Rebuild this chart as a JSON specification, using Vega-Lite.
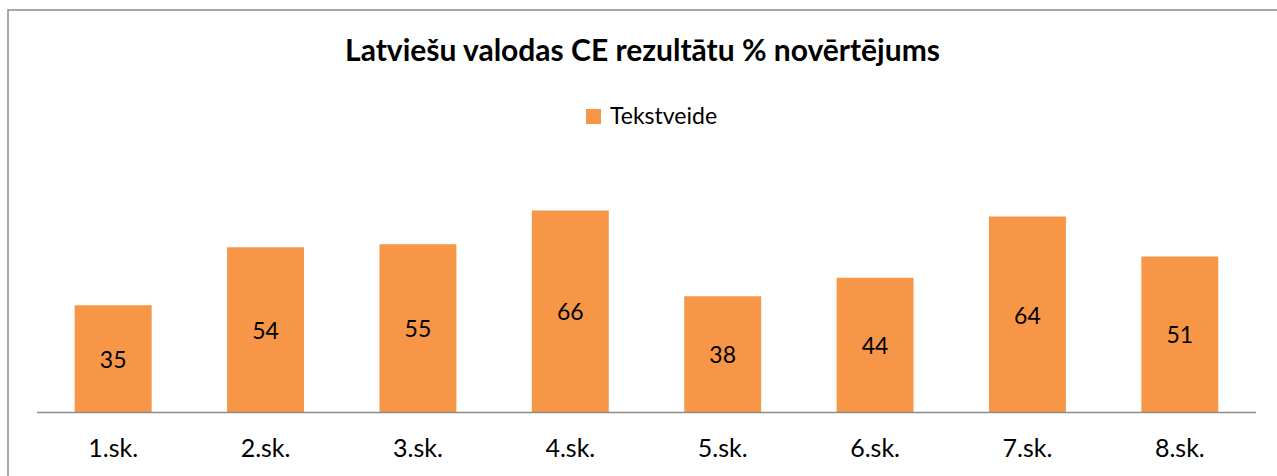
{
  "$schema": "https://vega.github.io/schema/vega-lite/v6.json",
  "width": 1269,
  "height": 466,
  "autosize": {"type": "none"},
  "padding": {"left": 8, "top": 10, "right": 0, "bottom": 0},
  "background": "white",
  "config": {
    "view": {"stroke": "#8c8c8c", "strokeWidth": 1.5, "strokeDash": [1269, 1735, 466]},
    "font": "Lato"
  },
  "title": {
    "text": "Latviešu valodas CE rezultātu % novērtējums",
    "fontSize": 30,
    "fontWeight": "bold",
    "font": "Lato",
    "color": "black",
    "anchor": "middle",
    "baseline": "alphabetic",
    "offset": -81
  },
  "data": {
    "values": [
      {"school": "1.sk.", "value": 35, "series": "Tekstveide"},
      {"school": "2.sk.", "value": 54, "series": "Tekstveide"},
      {"school": "3.sk.", "value": 55, "series": "Tekstveide"},
      {"school": "4.sk.", "value": 66, "series": "Tekstveide"},
      {"school": "5.sk.", "value": 38, "series": "Tekstveide"},
      {"school": "6.sk.", "value": 44, "series": "Tekstveide"},
      {"school": "7.sk.", "value": 64, "series": "Tekstveide"},
      {"school": "8.sk.", "value": 51, "series": "Tekstveide"}
    ]
  },
  "layer": [
    {
      "mark": {"type": "bar", "width": {"band": 0.505}},
      "encoding": {
        "x": {
          "field": "school",
          "type": "nominal",
          "sort": null,
          "scale": {"paddingInner": 0, "paddingOuter": 0.164, "align": 0.58},
          "axis": {
            "title": null,
            "domain": false,
            "ticks": false,
            "grid": false,
            "labelAngle": 0,
            "labelFontSize": 25,
            "labelFont": "Lato",
            "labelColor": "black",
            "labelPadding": 24,
            "offset": -63.5
          }
        },
        "y": {
          "field": "value",
          "type": "quantitative",
          "scale": {"domain": [-20.75, 131.5]},
          "axis": null
        },
        "color": {
          "field": "series",
          "type": "nominal",
          "scale": {"range": ["#F79646"]},
          "legend": {
            "title": null,
            "orient": "none",
            "legendX": 574,
            "legendY": 95,
            "symbolType": "square",
            "symbolSize": 225,
            "symbolStrokeWidth": 0,
            "labelFontSize": 23,
            "labelFont": "Lato",
            "labelColor": "black",
            "labelOffset": 5,
            "padding": 0
          }
        }
      }
    },
    {
      "transform": [{"filter": "datum.school == '1.sk.'"}],
      "mark": {"type": "rule", "color": "#8c8c8c", "strokeWidth": 1.5},
      "encoding": {
        "x": {"datum": "1.sk.", "bandPosition": 0},
        "x2": {"datum": "8.sk.", "bandPosition": 1},
        "y": {"datum": 0, "type": "quantitative", "scale": {"domain": [-20.75, 131.5]}, "axis": null}
      }
    },
    {
      "mark": {"type": "text", "fontSize": 23, "font": "Lato", "color": "black", "dy": 2},
      "encoding": {
        "x": {"field": "school", "type": "nominal", "sort": null},
        "y": {
          "field": "value",
          "type": "quantitative",
          "scale": {"domain": [-41.5, 263]},
          "axis": null
        },
        "text": {"field": "value", "type": "quantitative"}
      }
    }
  ],
  "resolve": {"scale": {"y": "independent"}}
}
